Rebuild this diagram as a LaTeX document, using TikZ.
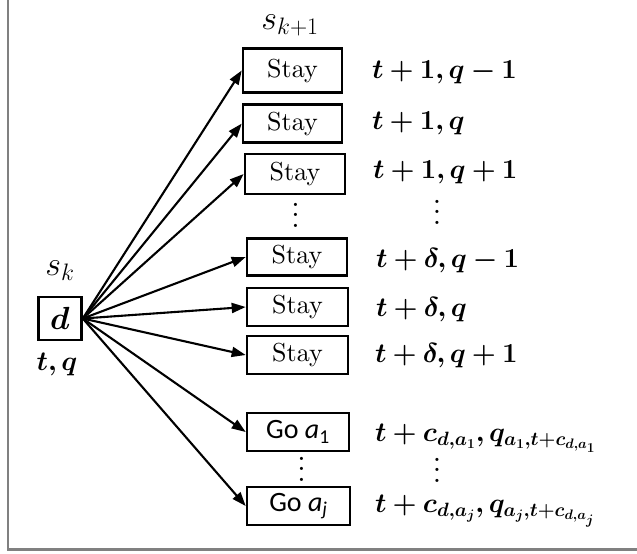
\RequirePackage{fix-cm}
\documentclass[tikz,border=0pt]{standalone}
\usepackage{fontspec}
\usepackage{amsmath}
\usepackage{bm}
\newfontfamily\carlito{Carlito}
\newfontfamily\lmten{lmroman10-regular}[Extension=.otf]
\newcommand\bigvdots{\vbox{\baselineskip=10.5pt \lineskiplimit=0pt \hbox{.}\hbox{.}\hbox{.}}}
\usetikzlibrary{arrows.meta}
\tikzset{
  statebox/.style={draw, line width=2.6pt, inner sep=0pt, minimum width=100pt, minimum height=38pt, font=\lmten\fontsize{26}{30}\selectfont},
  gobox/.style={statebox, font=\carlito\fontsize{28}{32}\selectfont},
  lab/.style={anchor=west, inner sep=0pt, font=\fontsize{27.5}{34}\selectfont},
  slab/.style={inner sep=0pt, font=\fontsize{34}{40}\selectfont},
  arr/.style={line width=2.1pt, -{Triangle[length=14pt,width=10pt]}},
  dotsl/.style={inner sep=0pt, font=\lmten\fontsize{30}{34}\selectfont}
}
\begin{document}
\begin{tikzpicture}[x=1pt,y=-1pt]
\useasboundingbox (0,0) rectangle (637,554);
\draw[line width=2.5pt, draw=black!50] (8,0) -- (8,549.5) -- (637,549.5);

\node[statebox, minimum width=43pt, minimum height=43pt, font=\fontsize{32}{36}\selectfont] (d) at (60,318.5) {$\bm{d}$};
\node[slab] (sk) at (60,271) {$s_k$};
\node[lab, anchor=center] (tq) at (57,364) {$\bm{t,q}$};
\node[slab] (sk1) at (290,25) {$s_{k+1}$};

\node[statebox, minimum width=99pt, minimum height=44pt] (b1) at (292.5,70.5) {Stay};
\node[statebox, minimum width=99pt] (b2) at (292.5,123.6) {Stay};
\node[statebox, minimum height=40pt] (b3) at (295,174) {Stay};
\node[dotsl] (v1) at (295.5,215) {\bigvdots};
\node[statebox, minimum height=37pt] (b4) at (297,257) {Stay};
\node[statebox, minimum width=101pt] (b5) at (297.5,307) {Stay};
\node[statebox, minimum width=101pt] (b6) at (297.5,355) {Stay};
\node[gobox, minimum width=102pt] (g1) at (298,432) {Go \textit{a}\textsubscript{1}};
\node[dotsl] (v2) at (301.6,469) {\bigvdots};
\node[gobox, minimum width=103pt] (gj) at (298.5,506) {Go \textit{a\textsubscript{j}}};

\node[lab] (l1) at (372,72) {$\bm{t+1,q-1}$};
\node[lab] (l2) at (372,123) {$\bm{t+1,q}$};
\node[lab] (l3) at (373,172.5) {$\bm{t+1,q+1}$};
\node[dotsl] (v3) at (437,212) {\bigvdots};
\node[lab] (l4) at (376,260.5) {$\bm{t+\delta,q-1}$};
\node[lab] (l5) at (376,310) {$\bm{t+\delta,q}$};
\node[lab] (l6) at (375,356) {$\bm{t+\delta,q+1}$};
\node[lab] (l7) at (375,438) {$\bm{t+c_{d,a_1},q_{a_1,t+c_{d,a_1}}}$};
\node[dotsl] (v4) at (437,470) {\bigvdots};
\node[lab] (l8) at (375,511) {$\bm{t+c_{d,a_j},q_{a_j,t+c_{d,a_j}}}$};

\foreach \b in {b1,b2,b3,b4,b5,b6,g1,gj}
  \draw[arr] (d.east) -- (\b.west);
\end{tikzpicture}
\end{document}
